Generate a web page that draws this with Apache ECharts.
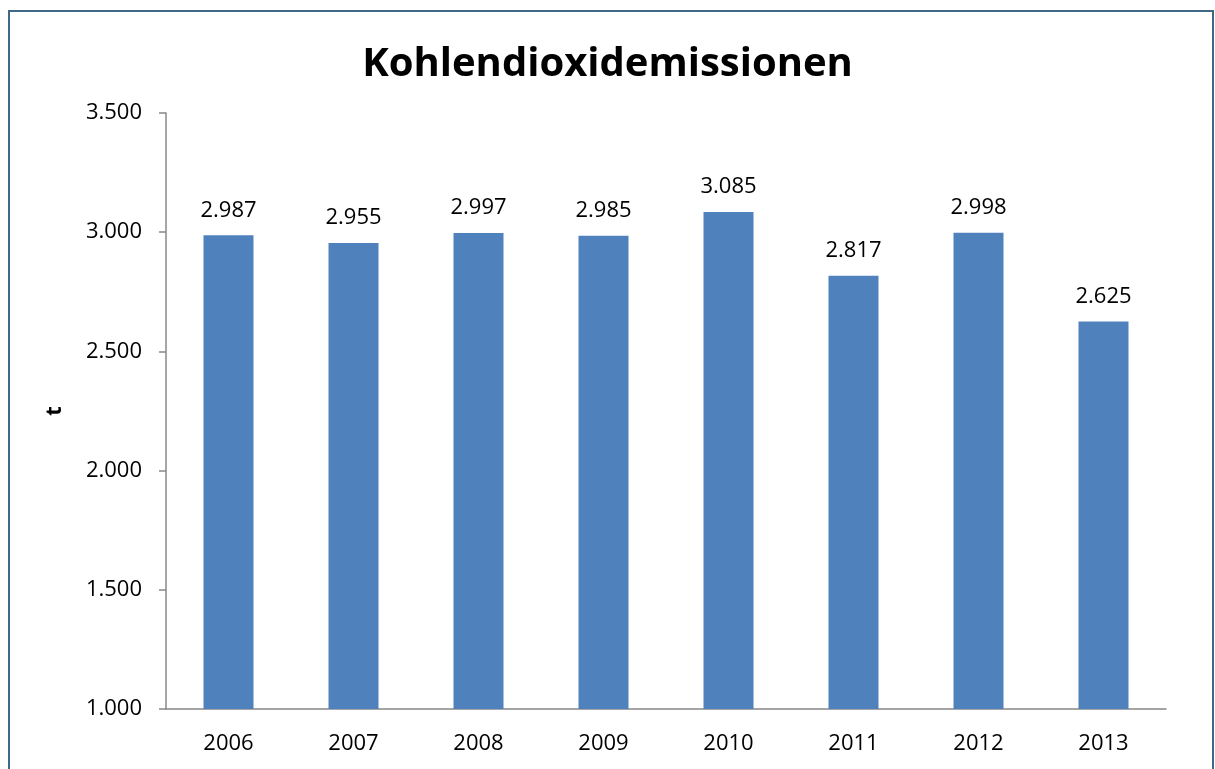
<!DOCTYPE html>
<html>
<head>
<meta charset="utf-8">
<script src="https://cdn.jsdelivr.net/npm/echarts@6/dist/echarts.min.js"></script>
<style>
  html, body { margin: 0; padding: 0; background: #fff; }
  #chart { width: 1215px; height: 769px; }
</style>
</head>
<body>
<div id="chart"></div>
<script>
var years = ['2006', '2007', '2008', '2009', '2010', '2011', '2012', '2013'];
var emissions = [2987, 2955, 2997, 2985, 3085, 2817, 2998, 2625];

function deNum(v) {
  return String(v).replace(/\B(?=(\d{3})+(?!\d))/g, '.');
}

var chart = echarts.init(document.getElementById('chart'));
var font = 'Open Sans, Noto Sans, sans-serif';
chart.setOption({
  animation: false,
  title: {
    text: 'Kohlendioxidemissionen',
    left: 'center',
    top: 40,
    textStyle: { fontFamily: font, fontSize: 40, fontWeight: 'bold', color: '#000' }
  },
  graphic: [{
    type: 'rect',
    shape: { x: 9, y: 11, width: 1204, height: 800 },
    style: { fill: 'none', stroke: '#3F6A86', lineWidth: 2 }
  }],
  grid: { left: 166, right: 49, top: 113, bottom: 60 },
  xAxis: {
    type: 'category',
    data: years,
    axisLine: { lineStyle: { color: '#888', width: 1.5 } },
    axisTick: { length: 7, lineStyle: { color: '#888', width: 1.5 } },
    axisLabel: { fontFamily: font, fontSize: 22, color: '#000', margin: 24 }
  },
  yAxis: {
    type: 'value',
    min: 1000,
    max: 3500,
    interval: 500,
    name: 't',
    nameLocation: 'middle',
    nameGap: 100,
    nameRotate: 90,
    nameTextStyle: { fontFamily: font, fontSize: 22, fontWeight: 'bold', color: '#000' },
    splitLine: { show: false },
    axisLine: { show: true, lineStyle: { color: '#888', width: 1.5 } },
    axisTick: { show: true, length: 7, lineStyle: { color: '#888', width: 1.5 } },
    axisLabel: { fontFamily: font, fontSize: 22, color: '#000', margin: 24, formatter: deNum }
  },
  series: [{
    type: 'bar',
    data: emissions,
    barWidth: '40%',
    itemStyle: { color: '#4F81BD' },
    label: {
      show: true,
      position: 'top',
      distance: 14,
      fontFamily: font,
      fontSize: 22,
      color: '#000',
      formatter: function (p) { return deNum(p.value); }
    }
  }]
});
</script>
</body>
</html>
